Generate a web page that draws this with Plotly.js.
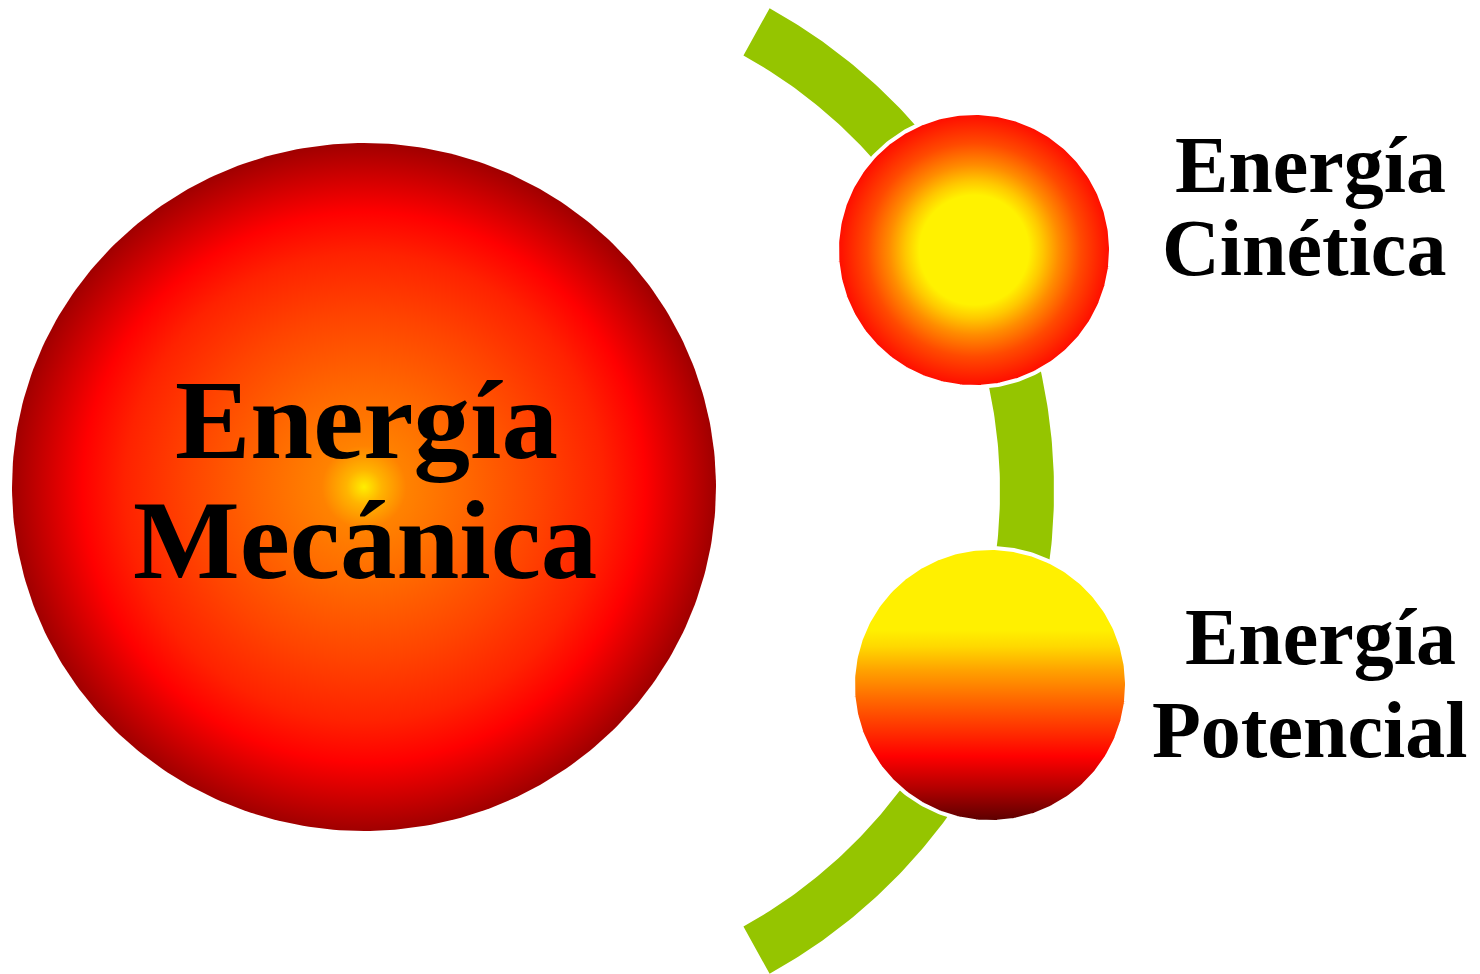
<!DOCTYPE html>
<html>
<head>
<meta charset="utf-8">
<script src="https://cdn.plot.ly/plotly-3.0.1.min.js"></script>
<style>
  html, body { margin: 0; padding: 0; background: #ffffff; }
  #chart { width: 1480px; height: 974px; }
</style>
</head>
<body>
<div id="chart"></div>
<script>
// ---- data ----
const nodeNames   = ['Mecánica', 'Cinética', 'Potencial'];
const labelLine1  = ['Energía', 'Energía', 'Energía'];
const labelLine2  = ['Mecánica', 'Cinética', 'Potencial'];
const nodeCx      = [364, 974, 990];
const nodeCy      = [487, 250, 685];
const nodeRx      = [352, 137, 137];
const nodeRy      = [344, 137, 137];

// connector arc (green)
const arcCenter   = [502, 491];
const arcRadii    = [498, 552];
const arcAngles   = [-61, 61];

// label placement
const labelX1     = [366, 1310, 1320];
const labelX2     = [365, 1304, 1309];
const labelY1     = [420, 165, 637];
const labelY2     = [539, 248, 730];
const labelSize   = [113, 80, 80];

// styles
const greenColor  = '#95C500';
const bigScale    = [[0,'#FFEE00'],[0.05,'#FFB400'],[0.12,'#FF8200'],[0.3,'#FF6600'],[0.5,'#FF4400'],[0.68,'#FF2200'],[0.8,'#FF0000'],[1,'#A00000']];
const kinScale    = [[0,'#FFF200'],[0.4,'#FFF200'],[0.5,'#FFC800'],[0.62,'#FF8C00'],[0.78,'#FF4A00'],[1,'#FF0A00']];
const potScale    = [[0,'#580000'],[0.12,'#B00000'],[0.24,'#FF0000'],[0.34,'#FF3300'],[0.45,'#FF6A00'],[0.55,'#FFA000'],[0.64,'#FFD800'],[0.70,'#FFF000'],[1,'#FFF000']];

// ---- geometry helpers ----
function ellipsePts(cx, cy, rx, ry) {
  const xs = [], ys = [];
  for (let i = 0; i <= 360; i++) {
    const t = i * Math.PI / 180;
    xs.push(cx + rx * Math.cos(t));
    ys.push(cy + ry * Math.sin(t));
  }
  return {x: xs, y: ys};
}
function arcBand() {
  const xs = [], ys = [];
  const [a0, a1] = arcAngles;
  for (let a = a0; a <= a1 + 1e-9; a += 0.5) {
    const t = a * Math.PI / 180;
    xs.push(arcCenter[0] + arcRadii[1] * Math.cos(t));
    ys.push(arcCenter[1] + arcRadii[1] * Math.sin(t));
  }
  for (let a = a1; a >= a0 - 1e-9; a -= 0.5) {
    const t = a * Math.PI / 180;
    xs.push(arcCenter[0] + arcRadii[0] * Math.cos(t));
    ys.push(arcCenter[1] + arcRadii[0] * Math.sin(t));
  }
  xs.push(xs[0]); ys.push(ys[0]);
  return {x: xs, y: ys};
}

const traces = [];
const band = arcBand();
traces.push({type:'scatter', mode:'lines', x: band.x, y: band.y, fill:'toself',
  fillcolor: greenColor, line:{width:0, color: greenColor}, hoverinfo:'skip'});

const gradients = [
  {type:'radial', colorscale: bigScale},
  {type:'radial', colorscale: kinScale},
  {type:'vertical', colorscale: potScale, start: nodeCy[2] + nodeRy[2], stop: nodeCy[2] - nodeRy[2]}
];
for (let i = 0; i < nodeNames.length; i++) {
  const p = ellipsePts(nodeCx[i], nodeCy[i], nodeRx[i], nodeRy[i]);
  traces.push({type:'scatter', mode:'lines', x: p.x, y: p.y, fill:'toself',
    name: nodeNames[i],
    fillgradient: gradients[i],
    line: {width: i === 0 ? 0 : 4, color:'#FFFFFF'}, hoverinfo:'skip'});
}

const annotations = [];
for (let i = 0; i < labelLine1.length; i++) {
  [[labelLine1[i], labelX1[i], labelY1[i]], [labelLine2[i], labelX2[i], labelY2[i]]].forEach(function(d) {
    annotations.push({x: d[1], y: d[2], xref:'x', yref:'y', text: '<b>' + d[0] + '</b>',
      showarrow:false, xanchor:'center', yanchor:'middle',
      font:{family:'"Liberation Serif", "Times New Roman", serif', size: labelSize[i], color:'#000000'}});
  });
}

const layout = {
  width: 1480, height: 974,
  margin: {l:0, r:0, t:0, b:0, pad:0},
  paper_bgcolor:'#FFFFFF', plot_bgcolor:'#FFFFFF',
  showlegend:false,
  xaxis:{range:[0,1480], visible:false, fixedrange:true},
  yaxis:{range:[974,0], visible:false, fixedrange:true},
  annotations: annotations
};
Plotly.newPlot('chart', traces, layout, {staticPlot:true, displayModeBar:false});
</script>
</body>
</html>
